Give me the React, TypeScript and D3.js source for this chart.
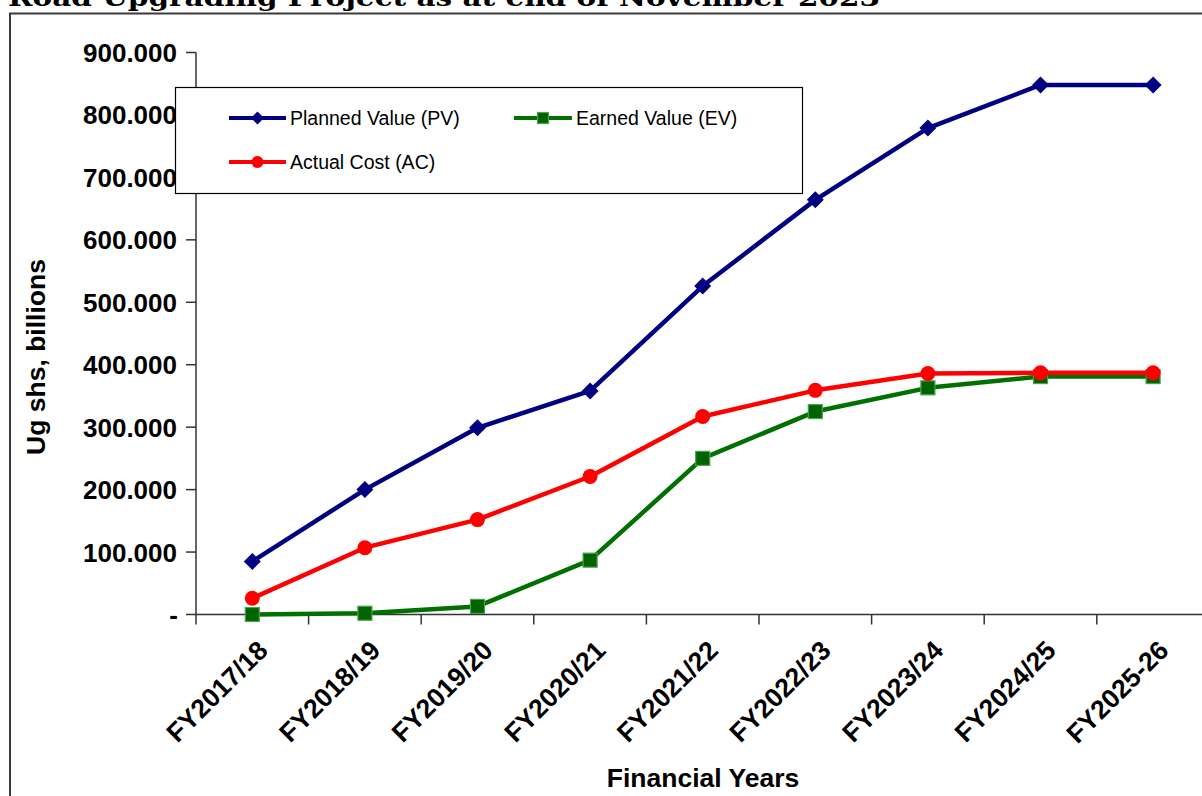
import React from "react";
import * as d3 from "d3";

// Financial years on the category axis
const categories = [
  "FY2017/18",
  "FY2018/19",
  "FY2019/20",
  "FY2020/21",
  "FY2021/22",
  "FY2022/23",
  "FY2023/24",
  "FY2024/25",
  "FY2025-26",
];

// Cumulative values, Ug shs billions
const plannedValue = [85, 200, 299, 358, 526, 664, 779, 848, 848];
const earnedValue = [0, 2, 13, 87, 250, 325, 363, 381, 381];
const actualCost = [26, 107, 152, 221, 317, 359, 386, 387, 387];

const yTicks = [0, 100, 200, 300, 400, 500, 600, 700, 800, 900];

const titleText = "Road Upgrading Project as at end of November 2023";

const W = 1202;
const H = 796;

const plotLeft = 196;
const bandW = 112.6;
const plotRight = plotLeft + bandW * categories.length;
const plotTop = 52.5;
const plotBottom = 614.5;

const PV_COLOR = "#000080";
const EV_COLOR = "#007000";
const AC_COLOR = "#ff0000";

const fmt = (v: number) => (v === 0 ? "-" : d3.format(".3f")(v));

function Diamond({ cx, cy, r, fill }: { cx: number; cy: number; r: number; fill: string }) {
  return (
    <path
      d={`M${cx},${cy - r}L${cx + r},${cy}L${cx},${cy + r}L${cx - r},${cy}Z`}
      fill={fill}
    />
  );
}

function Square({ cx, cy, s }: { cx: number; cy: number; s: number }) {
  return (
    <rect
      x={cx - s / 2}
      y={cy - s / 2}
      width={s}
      height={s}
      fill="#006400"
      stroke="#4f9f4f"
      strokeWidth={1.2}
    />
  );
}

export default function App() {
  const x = d3
    .scaleBand<string>()
    .domain(categories)
    .range([plotLeft, plotRight])
    .padding(0);
  const cx = (c: string) => (x(c) as number) + x.bandwidth() / 2;
  const y = d3.scaleLinear().domain([0, 900]).range([plotBottom, plotTop]);

  const line = d3
    .line<number>()
    .x((_, i) => cx(categories[i]))
    .y((v) => y(v));

  const tickFont = "'Liberation Sans', Arial, sans-serif";

  return (
    <div style={{ position: "absolute", left: 0, top: 0, width: W, height: H, overflow: "hidden", background: "#fff" }}>
      <svg width={W} height={H} viewBox={`0 0 ${W} ${H}`} style={{ display: "block" }}>
        <rect x={0} y={0} width={W} height={H} fill="#fff" />

        {/* report heading, partly above the page edge */}
        <text
          x={8}
          y={6}
          fontFamily="'DejaVu Serif', serif"
          fontWeight="bold"
          fontSize={24}
          fill="#000"
          textLength={872}
          lengthAdjust="spacingAndGlyphs"
        >
          {titleText}
        </text>

        {/* chart frame */}
        <rect x={10} y={13.5} width={1400} height={1000} fill="none" stroke="#3a3a3a" strokeWidth={2} />

        {/* y axis */}
        <line x1={plotLeft} x2={plotLeft} y1={plotTop} y2={plotBottom} stroke="#333" strokeWidth={1.5} />
        {yTicks.map((t) => (
          <g key={t}>
            <line x1={plotLeft - 10} x2={plotLeft} y1={y(t)} y2={y(t)} stroke="#333" strokeWidth={1.5} />
            <text
              x={t === 0 ? 178 : 177}
              y={y(t) + 9.5}
              textAnchor="end"
              fontFamily={tickFont}
              fontWeight="bold"
              fontSize={26}
              fill="#000"
            >
              {fmt(t)}
            </text>
          </g>
        ))}

        {/* x axis */}
        <line x1={plotLeft} x2={plotRight} y1={plotBottom} y2={plotBottom} stroke="#333" strokeWidth={1.5} />
        {categories.map((c) => (
          <line
            key={"t" + c}
            x1={x(c) as number}
            x2={x(c) as number}
            y1={plotBottom}
            y2={plotBottom + 10}
            stroke="#333"
            strokeWidth={1.5}
          />
        ))}
        {categories.map((c) => (
          <text
            key={"l" + c}
            transform={`translate(${cx(c) + 17},${652}) rotate(-45)`}
            textAnchor="end"
            fontFamily={tickFont}
            fontWeight="bold"
            fontSize={26.5}
            fill="#000"
          >
            {c}
          </text>
        ))}

        {/* axis titles */}
        <text
          x={703}
          y={787}
          textAnchor="middle"
          fontFamily={tickFont}
          fontWeight="bold"
          fontSize={26.5}
          fill="#000"
        >
          Financial Years
        </text>
        <text
          transform={`translate(45,357) rotate(-90)`}
          textAnchor="middle"
          fontFamily={tickFont}
          fontWeight="bold"
          fontSize={26.5}
          fill="#000"
        >
          Ug shs, billions
        </text>

        {/* series */}
        <path d={line(plannedValue) || ""} fill="none" stroke={PV_COLOR} strokeWidth={4.5} strokeLinejoin="round" />
        {plannedValue.map((v, i) => (
          <Diamond key={"pv" + i} cx={cx(categories[i])} cy={y(v)} r={8.5} fill={PV_COLOR} />
        ))}

        <path d={line(earnedValue) || ""} fill="none" stroke={EV_COLOR} strokeWidth={4.5} strokeLinejoin="round" />
        {earnedValue.map((v, i) => (
          <Square key={"ev" + i} cx={cx(categories[i])} cy={y(v)} s={14} />
        ))}

        <path d={line(actualCost) || ""} fill="none" stroke={AC_COLOR} strokeWidth={4.5} strokeLinejoin="round" />
        {actualCost.map((v, i) => (
          <circle key={"ac" + i} cx={cx(categories[i])} cy={y(v)} r={7.5} fill={AC_COLOR} />
        ))}

        {/* legend */}
        <rect x={175.5} y={87.5} width={627} height={106} fill="#fff" stroke="#000" strokeWidth={1.2} />
        <g fontFamily={tickFont} fontSize={19.5} fill="#000">
          <line x1={229} x2={286} y1={118} y2={118} stroke={PV_COLOR} strokeWidth={4} />
          <Diamond cx={257.5} cy={118} r={6.5} fill={PV_COLOR} />
          <text x={290} y={125}>Planned Value (PV)</text>

          <line x1={514} x2={572} y1={118} y2={118} stroke={EV_COLOR} strokeWidth={4} />
          <Square cx={543} cy={118} s={11} />
          <text x={576} y={125}>Earned Value (EV)</text>

          <line x1={229} x2={286} y1={162} y2={162} stroke={AC_COLOR} strokeWidth={4} />
          <circle cx={257.5} cy={162} r={6} fill={AC_COLOR} />
          <text x={290} y={169}>Actual Cost (AC)</text>
        </g>
      </svg>
    </div>
  );
}
